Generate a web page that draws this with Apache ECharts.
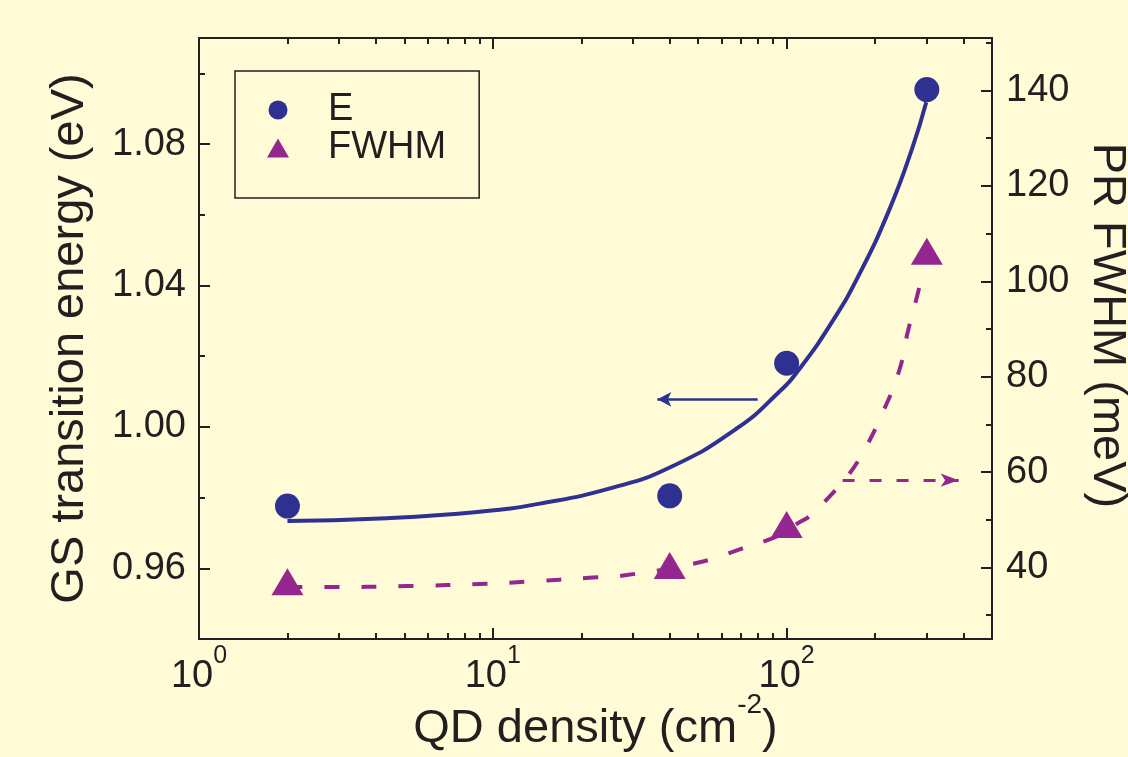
<!DOCTYPE html>
<html>
<head>
<meta charset="utf-8">
<script src="https://cdn.jsdelivr.net/npm/echarts@6/dist/echarts.min.js"></script>
<style>
html,body{margin:0;padding:0;background:#FFFBD7;}
#chart{width:1128px;height:757px;}
</style>
</head>
<body>
<div id="chart"></div>
<script>
// ---- data ----
const densityPts = [2, 40, 100, 300];               // QD density (cm^-2)
const energyPts = [0.9776, 0.9805, 1.018, 1.0954];   // GS transition energy (eV)
const fwhmPts = [37.0, 40.4, 49.0, 106.3];           // PR FWHM (meV)

const eFitX = [2.0, 4.13, 9.03, 14.45, 25.6, 40.0, 67.5, 94.6, 110.8, 143.3, 176.8, 224, 268, 298.7];
const eFitY = [0.9734, 0.9741, 0.9760, 0.9783, 0.9828, 0.9885, 0.9995, 1.0100, 1.0165, 1.0299, 1.0432, 1.0616, 1.0790, 1.0918];

const fFitX = [2.0, 2.72, 5.09, 9.52, 13.7, 20.8, 28.5, 50.6, 69.2, 94.8, 108.7, 121.3, 143, 157.5, 181.4, 212, 242, 258, 276, 294.6];
const fFitY = [35.9, 35.9, 36.1, 36.6, 37.1, 37.8, 38.4, 41.1, 43.8, 46.8, 49.2, 51.0, 55.5, 58.3, 64.0, 72.4, 81.4, 89.2, 96.1, 103.1];

// arrows: [x1, y1, x2, y2] (start -> head)
const energyArrow = [79.7, 1.0078, 36.3, 1.0078];
const fwhmArrow = [155, 58.3, 385, 58.3];

const xMajorTicks = [1, 10, 100];
const xMinorTicks = [2,3,4,5,6,7,8,9,20,30,40,50,60,70,80,90,200,300,400];
const yLeftMajor = [0.96, 1.00, 1.04, 1.08];
const yLeftMinor = [0.98, 1.02, 1.06, 1.10];
const yRightMajor = [40, 60, 80, 100, 120, 140];
const yRightMinor = [30, 50, 70, 90, 110, 130, 150];

// ---- styles ----
const BLUE = '#2E3192';
const PURPLE = '#93278F';
const INK = '#231F20';
const FONT = "'Liberation Sans', Arial, sans-serif";
const TICK_FS = 38;
const TITLE_FS = 47;

const zip = (a, b) => a.map((v, i) => [v, b[i]]);

const baseX = {
  type: 'log', logBase: 10, min: 1, max: 500,
  splitLine: {show: false}, axisPointer: {show: false}
};
const baseYL = {type: 'value', min: 0.94, max: 1.11, position: 'left', splitLine: {show: false}};
const baseYR = {type: 'value', min: 25, max: 151, position: 'right', splitLine: {show: false}};

const axisLine = {show: true, onZero: false, lineStyle: {color: INK, width: 2}};
const noLine = {show: false};

const option = {
  backgroundColor: '#FFFBD7',
  animation: false,
  grid: {left: 199, right: 136, top: 38, bottom: 118, outerBoundsMode: 'none', containLabel: false},
  legend: {
    data: ['E', 'FWHM'],
    orient: 'vertical',
    left: 235, top: 71,
    padding: [20, 33, 31, 32],
    itemGap: 0,
    itemWidth: 22, itemHeight: 19,
    borderColor: INK, borderWidth: 1.5,
    formatter: function (name) { return '{g| }{t|' + name + '}'; },
    textStyle: {
      color: INK, fontFamily: FONT, fontSize: TICK_FS,
      rich: {
        g: {width: 34, lineHeight: 39},
        t: {fontSize: TICK_FS, lineHeight: 39, fontFamily: FONT, color: INK}
      }
    }
  },
  xAxis: [
    Object.assign({}, baseX, {
      position: 'bottom',
      axisLine: axisLine,
      axisTick: {inside: true, length: 11, customValues: xMajorTicks, lineStyle: {color: INK, width: 2}},
      axisLabel: {
        customValues: xMajorTicks, margin: 5,
        formatter: function (v) { return '{b|10}{s|' + Math.round(Math.log10(v)) + '}'; },
        rich: {
          b: {fontSize: TICK_FS, fontFamily: FONT, color: INK, lineHeight: 52, verticalAlign: 'bottom'},
          s: {fontSize: 25, fontFamily: FONT, color: INK, lineHeight: 25, verticalAlign: 'top'}
        }
      },
      name: '{a|QD density (cm}{s|-2}{a|)}',
      nameLocation: 'middle', nameGap: 52, nameMoveOverlap: false,
      nameTextStyle: {
        rich: {
          a: {fontSize: TITLE_FS, fontFamily: FONT, color: INK, lineHeight: 62, verticalAlign: 'bottom'},
          s: {fontSize: 28, fontFamily: FONT, color: INK, lineHeight: 28, verticalAlign: 'top'}
        }
      }
    }),
    Object.assign({}, baseX, {
      position: 'bottom',
      axisLine: noLine,
      axisTick: {inside: true, length: 6, customValues: xMinorTicks, lineStyle: {color: INK, width: 2}},
      axisLabel: {show: false}
    }),
    Object.assign({}, baseX, {
      position: 'top',
      axisLine: axisLine,
      axisTick: {inside: true, length: 11, customValues: xMajorTicks, lineStyle: {color: INK, width: 2}},
      axisLabel: {show: false}
    }),
    Object.assign({}, baseX, {
      position: 'top',
      axisLine: noLine,
      axisTick: {inside: true, length: 6, customValues: xMinorTicks, lineStyle: {color: INK, width: 2}},
      axisLabel: {show: false}
    })
  ],
  yAxis: [
    Object.assign({}, baseYL, {
      axisLine: axisLine,
      axisTick: {inside: true, length: 11, customValues: yLeftMajor, lineStyle: {color: INK, width: 2}},
      axisLabel: {
        customValues: yLeftMajor, margin: 13,
        color: INK, fontSize: TICK_FS, fontFamily: FONT,
        formatter: function (v) { return v.toFixed(2); }
      },
      name: 'GS transition energy (eV)',
      nameLocation: 'middle', nameGap: 105,
      nameTextStyle: {color: INK, fontSize: TITLE_FS, fontFamily: FONT}
    }),
    Object.assign({}, baseYL, {
      axisLine: noLine,
      axisTick: {inside: true, length: 6, customValues: yLeftMinor, lineStyle: {color: INK, width: 2}},
      axisLabel: {show: false}
    }),
    Object.assign({}, baseYR, {
      axisLine: axisLine,
      axisTick: {inside: true, length: 11, customValues: yRightMajor, lineStyle: {color: INK, width: 2}},
      axisLabel: {
        customValues: yRightMajor, margin: 14,
        color: INK, fontSize: TICK_FS, fontFamily: FONT
      },
      name: 'PR FWHM (meV)',
      nameLocation: 'middle', nameGap: 91, nameRotate: -90,
      nameTextStyle: {color: INK, fontSize: TITLE_FS, fontFamily: FONT, padding: [0, 26, 0, 0]}
    }),
    Object.assign({}, baseYR, {
      axisLine: noLine,
      axisTick: {inside: true, length: 6, customValues: yRightMinor, lineStyle: {color: INK, width: 2}},
      axisLabel: {show: false}
    })
  ],
  series: [
    {
      name: 'E fit', type: 'line', xAxisIndex: 0, yAxisIndex: 0,
      data: zip(eFitX, eFitY), smooth: true, showSymbol: false, symbol: 'none',
      lineStyle: {color: BLUE, width: 4}, z: 2, silent: true,
      markLine: {
        silent: true, symbol: ['none', 'arrow'], symbolSize: 13,
        label: {show: false},
        lineStyle: {color: BLUE, width: 2.5, type: 'solid'},
        itemStyle: {color: BLUE},
        data: [[
          {coord: [energyArrow[0], energyArrow[1]], symbol: 'none'},
          {coord: [energyArrow[2], energyArrow[3]], symbol: 'arrow', symbolSize: [11, 14]}
        ]]
      }
    },
    {
      name: 'FWHM fit', type: 'line', xAxisIndex: 0, yAxisIndex: 2,
      data: zip(fFitX, fFitY), smooth: true, showSymbol: false, symbol: 'none',
      lineStyle: {color: PURPLE, width: 4, type: [15, 22]}, z: 2, silent: true,
      markLine: {
        silent: true, symbol: ['none', 'arrow'], symbolSize: 16,
        label: {show: false},
        lineStyle: {color: PURPLE, width: 3, type: [12, 15]},
        itemStyle: {color: PURPLE},
        data: [[
          {coord: [fwhmArrow[0], fwhmArrow[1]], symbol: 'none'},
          {coord: [fwhmArrow[2], fwhmArrow[3]], symbol: 'arrow', symbolSize: [10, 18]}
        ]]
      }
    },
    {
      name: 'E', type: 'scatter', xAxisIndex: 0, yAxisIndex: 0,
      data: zip(densityPts, energyPts), symbol: 'circle', symbolSize: 25,
      itemStyle: {color: BLUE, opacity: 1}, z: 3
    },
    {
      name: 'FWHM', type: 'scatter', xAxisIndex: 0, yAxisIndex: 2,
      data: zip(densityPts, fwhmPts), symbol: 'triangle', symbolSize: [32, 27],
      itemStyle: {color: PURPLE, opacity: 1}, z: 3
    }
  ]
};

const chart = echarts.init(document.getElementById('chart'), null, {renderer: 'canvas'});
chart.setOption(option);
</script>
</body>
</html>
